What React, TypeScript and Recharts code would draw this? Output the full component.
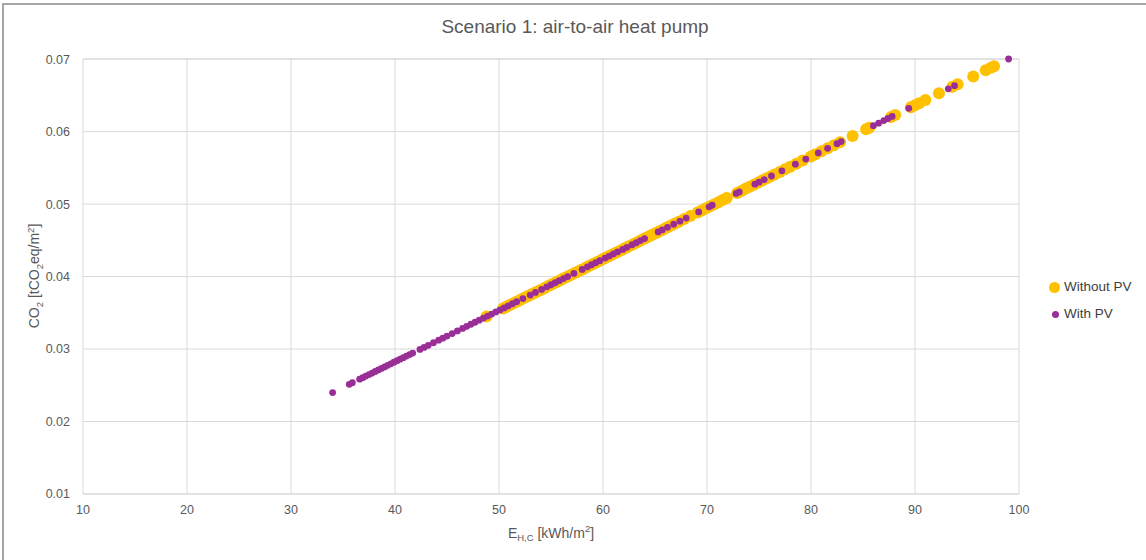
import { ScatterChart, Scatter, XAxis, YAxis, CartesianGrid } from "recharts";

// Scenario 1: air-to-air heat pump, two scatter series
const xTicks = [10, 20, 30, 40, 50, 60, 70, 80, 90, 100];
const yTicks = [0.01, 0.02, 0.03, 0.04, 0.05, 0.06, 0.07];

const withoutPvX = [
  48.8, 50.4, 50.7, 51.0, 51.3, 51.6, 51.9, 52.2, 52.5, 52.8, 53.1, 53.4, 53.7, 54.0, 54.3, 54.6,
  54.9, 55.2, 55.5, 55.8, 56.1, 56.4, 56.7, 57.0, 57.3, 57.6, 57.9, 58.2, 58.5, 58.8, 59.1, 59.4,
  59.7, 60.0, 60.3, 60.6, 60.9, 61.2, 61.5, 61.8, 62.1, 62.4, 62.7, 63.0, 63.3, 63.6, 63.9, 64.2,
  64.5, 64.8, 65.1, 65.4, 65.7, 66.0, 66.3, 66.6, 66.9, 67.3, 67.8, 68.4, 69.1, 69.5, 69.9, 70.3,
  70.7, 71.1, 71.5, 71.9, 72.9, 73.3, 73.7, 74.1, 74.5, 74.9, 75.3, 75.7, 76.1, 76.5, 77.0, 77.5,
  78.0, 78.6, 79.2, 80.0, 80.4, 81.0, 81.6, 82.2, 82.8, 84.0, 85.3, 85.6, 87.7, 88.1, 89.6, 90.0,
  90.4, 91.0, 92.3, 93.6, 94.1, 95.6, 96.8, 97.3, 97.6,
];
const withoutPvY = [
  0.03448, 0.03561, 0.03582, 0.03604, 0.03625, 0.03646, 0.03667, 0.03689, 0.0371, 0.03731, 0.03752,
  0.03774, 0.03795, 0.03816, 0.03837, 0.03858, 0.0388, 0.03901, 0.03922, 0.03943, 0.03965, 0.03986,
  0.04007, 0.04028, 0.0405, 0.04071, 0.04092, 0.04113, 0.04135, 0.04156, 0.04177, 0.04198, 0.0422,
  0.04241, 0.04262, 0.04283, 0.04305, 0.04326, 0.04347, 0.04368, 0.0439, 0.04411, 0.04432, 0.04453,
  0.04474, 0.04496, 0.04517, 0.04538, 0.04559, 0.04581, 0.04602, 0.04623, 0.04644, 0.04666, 0.04687,
  0.04708, 0.04729, 0.04758, 0.04793, 0.04836, 0.04885, 0.04913, 0.04942, 0.0497, 0.04998, 0.05027,
  0.05055, 0.05083, 0.05154, 0.05182, 0.05211, 0.05239, 0.05267, 0.05296, 0.05324, 0.05352, 0.05381,
  0.05409, 0.05444, 0.0548, 0.05515, 0.05558, 0.056, 0.05657, 0.05685, 0.05728, 0.0577, 0.05813,
  0.05855, 0.0594, 0.06032, 0.06053, 0.06202, 0.0623, 0.06336, 0.06365, 0.06393, 0.06436, 0.06528,
  0.0662, 0.06655, 0.06761, 0.06846, 0.06882, 0.06903,
];

const withPvX = [
  34.0, 35.6, 35.9, 36.6, 36.9, 37.2, 37.5, 37.8, 38.1, 38.4, 38.7, 39.0, 39.3, 39.6, 39.9, 40.2,
  40.5, 40.8, 41.1, 41.4, 41.7, 42.4, 42.8, 43.2, 43.7, 44.2, 44.6, 45.0, 45.5, 46.0, 46.5, 46.9,
  47.3, 47.7, 48.1, 48.5, 48.9, 49.3, 49.7, 50.1, 50.5, 50.9, 51.3, 51.7, 52.3, 53.0, 53.5, 54.1,
  54.6, 55.0, 55.4, 55.8, 56.2, 56.6, 57.2, 58.0, 58.5, 58.9, 59.3, 59.7, 60.2, 60.6, 61.0, 61.4,
  61.9, 62.3, 62.8, 63.2, 63.6, 64.0, 65.3, 65.7, 66.2, 66.8, 67.4, 68.0, 69.2, 70.2, 70.5, 72.8,
  73.1, 74.6, 75.0, 75.5, 76.2, 77.2, 78.5, 79.5, 80.7, 81.6, 82.5, 82.9, 86.0, 86.5, 87.0, 87.4,
  87.8, 89.4, 93.2, 93.8, 99.0,
];
const withPvY = [
  0.024, 0.02513, 0.02535, 0.02584, 0.02605, 0.02627, 0.02648, 0.02669, 0.0269, 0.02712, 0.02733,
  0.02754, 0.02775, 0.02796, 0.02818, 0.02839, 0.0286, 0.02881, 0.02903, 0.02924, 0.02945, 0.02995,
  0.03023, 0.03051, 0.03087, 0.03122, 0.0315, 0.03179, 0.03214, 0.0325, 0.03285, 0.03313, 0.03342,
  0.0337, 0.03398, 0.03427, 0.03455, 0.03483, 0.03512, 0.0354, 0.03568, 0.03597, 0.03625, 0.03653,
  0.03696, 0.03745, 0.03781, 0.03823, 0.03858, 0.03887, 0.03915, 0.03943, 0.03972, 0.04, 0.04043,
  0.04099, 0.04135, 0.04163, 0.04191, 0.0422, 0.04255, 0.04283, 0.04312, 0.0434, 0.04375, 0.04404,
  0.04439, 0.04467, 0.04496, 0.04524, 0.04616, 0.04644, 0.0468, 0.04722, 0.04765, 0.04807, 0.04892,
  0.04963, 0.04984, 0.05147, 0.05168, 0.05275, 0.05303, 0.05338, 0.05388, 0.05459, 0.05551, 0.05621,
  0.05706, 0.0577, 0.05834, 0.05862, 0.06082, 0.06117, 0.06152, 0.06181, 0.06209, 0.06322, 0.06591,
  0.06634, 0.07002,
];

const YELLOW = "#ffc000";
const PURPLE = "#992e97";
const FONT = "'Liberation Sans', Arial, sans-serif";
const TEXT = "#595959";

const withoutPv = withoutPvX.map((x, i) => ({ x, y: withoutPvY[i] }));
const withPv = withPvX.map((x, i) => ({ x, y: withPvY[i] }));

const dot = (r: number, fill: string) => (p: any) => (
  <circle cx={p.cx} cy={p.cy} r={r} fill={fill} />
);

export default function App() {
  return (
    <div style={{ position: "absolute", left: 0, top: 0, width: 1146, height: 560, overflow: "hidden", background: "#fff", fontFamily: FONT }}>
      <div style={{ position: "absolute", left: 2, top: 3, width: 1160, height: 600, border: "2px solid #a6a6a6" }} />
      <div style={{ position: "absolute", left: 2, top: 16, width: 1146, textAlign: "center", fontSize: 19, color: TEXT }}>
        Scenario 1: air-to-air heat pump
      </div>
      <ScatterChart width={1146} height={560} margin={{ top: 58, right: 127, bottom: 0, left: 0 }} style={{ position: "absolute", left: 0, top: 1 }}>
        <CartesianGrid stroke="#d9d9d9" />
        <XAxis
          type="number"
          dataKey="x"
          domain={[10, 100]}
          ticks={xTicks}
          height={67}
          tickLine={false}
          axisLine={{ stroke: "#d9d9d9" }}
          tickMargin={5}
          tick={{ fontSize: 12.5, fill: TEXT, fontFamily: FONT }}
        />
        <YAxis
          type="number"
          dataKey="y"
          domain={[0.01, 0.07]}
          ticks={yTicks}
          width={83}
          tickLine={false}
          axisLine={false}
          tickMargin={7}
          tickFormatter={(v: number) => v.toFixed(2)}
          tick={{ fontSize: 12.5, fill: TEXT, fontFamily: FONT }}
        />
        <Scatter name="Without PV" data={withoutPv} fill={YELLOW} shape={dot(6, YELLOW)} isAnimationActive={false} />
        <Scatter name="With PV" data={withPv} fill={PURPLE} shape={dot(3.4, PURPLE)} isAnimationActive={false} />
      </ScatterChart>
      {/* axis titles */}
      <div style={{ position: "absolute", left: 0, top: 523, width: 1102, textAlign: "center", fontSize: 14, color: TEXT }}>
        E<sub style={{ fontSize: 9.5 }}>H,C</sub> [kWh/m<sup style={{ fontSize: 9.5 }}>2</sup>]
      </div>
      <div
        style={{
          position: "absolute",
          left: 35,
          top: 276,
          transform: "translate(-50%, -50%) rotate(-90deg)",
          whiteSpace: "nowrap",
          fontSize: 14,
          color: TEXT,
        }}
      >
        CO<sub style={{ fontSize: 9.5 }}>2</sub> [tCO<sub style={{ fontSize: 9.5 }}>2</sub>eq/m<sup style={{ fontSize: 9.5 }}>2</sup>]
      </div>
      {/* legend */}
      <div style={{ position: "absolute", left: 1049, top: 278, fontSize: 13.5, color: "#404040", lineHeight: "18px" }}>
        <div style={{ display: "flex", alignItems: "center" }}>
          <span style={{ display: "inline-block", width: 11, height: 11, borderRadius: "50%", background: YELLOW, marginRight: 4 }} />
          Without PV
        </div>
        <div style={{ display: "flex", alignItems: "center", marginTop: 9 }}>
          <span style={{ display: "inline-block", width: 7, height: 7, borderRadius: "50%", background: PURPLE, marginLeft: 3, marginRight: 5 }} />
          With PV
        </div>
      </div>
    </div>
  );
}
